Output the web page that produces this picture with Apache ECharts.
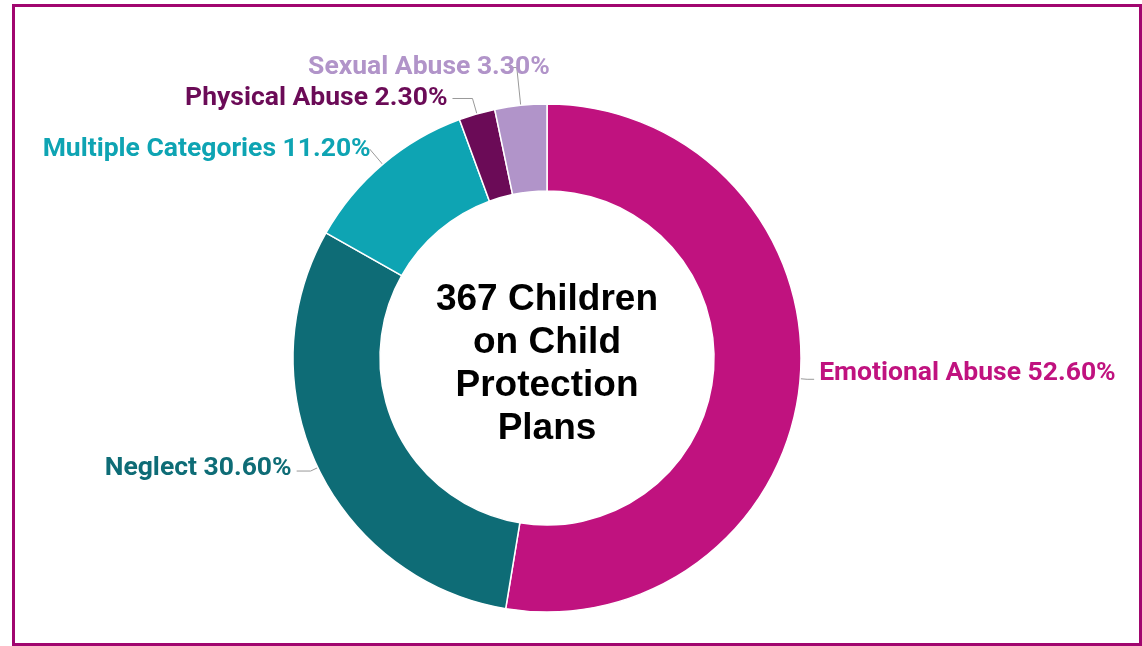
<!DOCTYPE html>
<html>
<head>
<meta charset="utf-8">
<script src="https://cdn.jsdelivr.net/npm/echarts@6/dist/echarts.min.js"></script>
<style>
  html, body { margin: 0; padding: 0; background: #fff; }
  #chart { width: 1142px; height: 646px; }
</style>
</head>
<body>
<div id="chart"></div>
<script>
// Data
var categories = ['Emotional Abuse', 'Neglect', 'Multiple Categories', 'Physical Abuse', 'Sexual Abuse'];
var shares = [52.6, 30.6, 11.2, 2.3, 3.3];
var sliceColors = ['#c0127f', '#0e6c76', '#0ea4b3', '#6b0b57', '#b194c9'];
var centerText = '367 Children\non Child\nProtection\nPlans';

// label line lengths [length, length2] per slice
var lineLengths = [[7, 7], [8, 14], [20, 0], [16, 20], [38, 8]];
// small nudges of the labels [dx, dy]
var labelShift = [[0, -6], [0, -3], [6, 0], [0, 0], [46, 0]];

var chart = echarts.init(document.getElementById('chart'));

var pieData = categories.map(function (name, i) {
    return {
        name: name,
        value: shares[i],
        itemStyle: { color: sliceColors[i] },
        label: { color: sliceColors[i] },
        labelLine: { length: lineLengths[i][0], length2: lineLengths[i][1] }
    };
});

var option = {
    animation: false,
    graphic: [
        {
            type: 'rect',
            shape: { x: 13.5, y: 5.5, width: 1127, height: 639 },
            style: { fill: 'none', stroke: '#a1066f', lineWidth: 3 }
        },
        {
            type: 'text',
            x: 547,
            y: 364,
            style: {
                text: centerText,
                fill: '#000',
                font: 'bold 37px "Liberation Sans", Arial, sans-serif',
                textAlign: 'center',
                textVerticalAlign: 'middle',
                lineHeight: 43
            }
        }
    ],
    series: [
        {
            type: 'pie',
            center: [547, 358],
            radius: [167, 254],
            startAngle: 90,
            clockwise: true,
            avoidLabelOverlap: false,
            itemStyle: { borderColor: '#fff', borderWidth: 1.5 },
            label: {
                show: true,
                formatter: function (p) { return p.name + ' ' + p.value.toFixed(2) + '%'; },
                fontFamily: 'Roboto',
                fontWeight: 'bold',
                fontSize: 26.5
            },
            labelLine: {
                show: true,
                lineStyle: { color: '#999', width: 1 }
            },
            labelLayout: function (params) {
                var s = labelShift[params.dataIndex];
                return { dx: s[0], dy: s[1] };
            },
            data: pieData
        }
    ]
};

chart.setOption(option);
</script>
</body>
</html>
